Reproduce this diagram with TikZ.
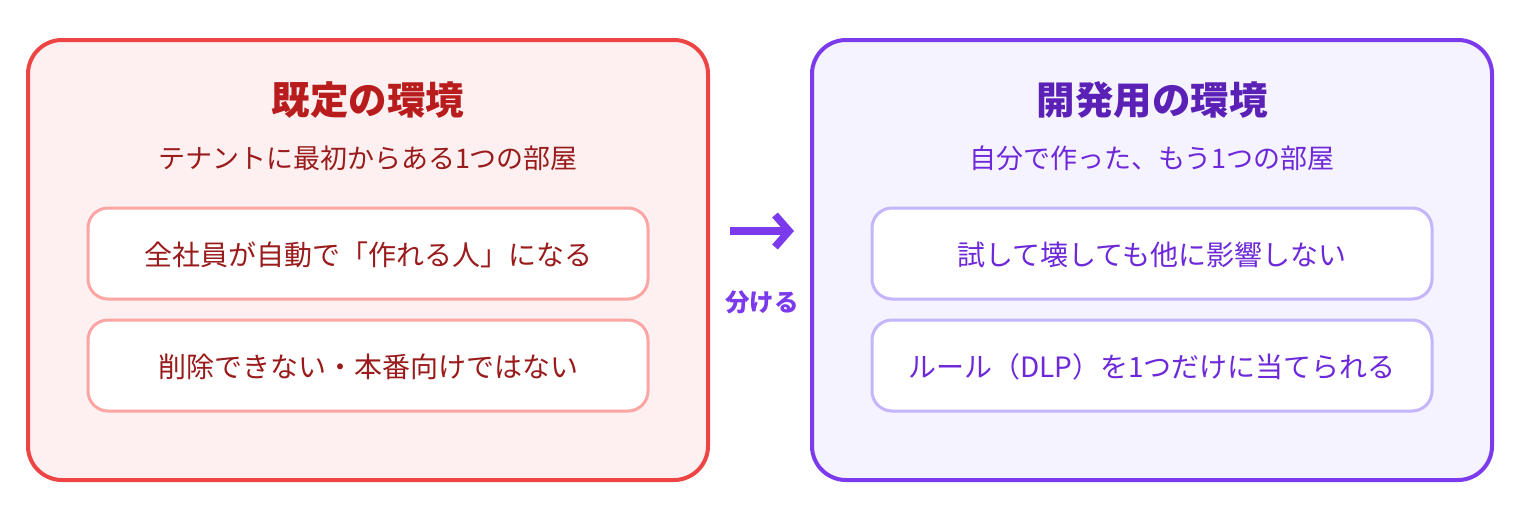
\documentclass[tikz,border=0pt]{standalone}
\usepackage{fontspec}
\setmainfont{Noto Sans CJK JP}
\usetikzlibrary{arrows.meta,positioning}
\definecolor{dfltline}{HTML}{EF4444}
\definecolor{dfltfill}{HTML}{FEF0F0}
\definecolor{dflthead}{HTML}{B91C1C}
\definecolor{dflttext}{HTML}{991B1B}
\definecolor{dfltitem}{HTML}{FCA5A5}
\definecolor{devline}{HTML}{7C3AED}
\definecolor{devfill}{HTML}{F5F3FF}
\definecolor{devhead}{HTML}{5B21B6}
\definecolor{devtext}{HTML}{6D28D9}
\definecolor{devitem}{HTML}{C4B5FD}
\tikzset{
  envbox/.style={draw=#1, line width=4pt, rounded corners=34pt, minimum width=680pt, minimum height=440pt, inner sep=0pt},
  itembox/.style={draw=#1, fill=white, line width=3pt, rounded corners=20pt, minimum width=560pt, minimum height=91pt, inner sep=0pt},
  envtitle/.style={font=\fontsize{38.5}{44}\selectfont\bfseries, inner sep=0pt},
  envsub/.style={font=\fontsize{27}{31}\selectfont, inner sep=0pt},
  itemtext/.style={font=\fontsize{28}{32}\selectfont, text depth=0pt},
  splitarrow/.style={devline, line width=7.5pt, -{Straight Barb[length=14pt,width=32pt,line width=7.5pt]}}
}
\begin{document}
\begin{tikzpicture}[x=1pt,y=-1pt]
  \useasboundingbox (0,0) rectangle (1520,520);
  \foreach \nm/\cx/\col/\ttl/\sub/\ia/\ib in {%
      dflt/368/dflt/既定の環境/テナントに最初からある1つの部屋/全社員が自動で「作れる人」になる/削除できない・本番向けではない,%
      dev/1152/dev/開発用の環境/自分で作った、もう1つの部屋/試して壊しても他に影響しない/ルール（DLP）を1つだけに当てられる} {
    \node[envbox=\col line, fill=\col fill] (\nm) at (\cx,260) {};
    \node[envtitle, text=\col head] (\nm-title) at (\cx,100) {\ttl};
    \node[envsub, text=\col text] (\nm-sub) at (\cx,158) {\sub};
    \node[itembox=\col item, itemtext, text=\col text] (\nm-a) at (\cx,253.5) {\ia};
    \node[itembox=\col item, itemtext, text=\col text] (\nm-b) at (\cx,365.5) {\ib};
  }
  % arrow between the two rooms
  \coordinate (arr-s) at (730,231);
  \coordinate (arr-e) at (794,231);
  \draw[splitarrow] (arr-s) -- (arr-e);
  \node[font=\fontsize{24.5}{28}\selectfont\bfseries, text=devline] (split) at (762,302) {分ける};
\end{tikzpicture}
\end{document}
